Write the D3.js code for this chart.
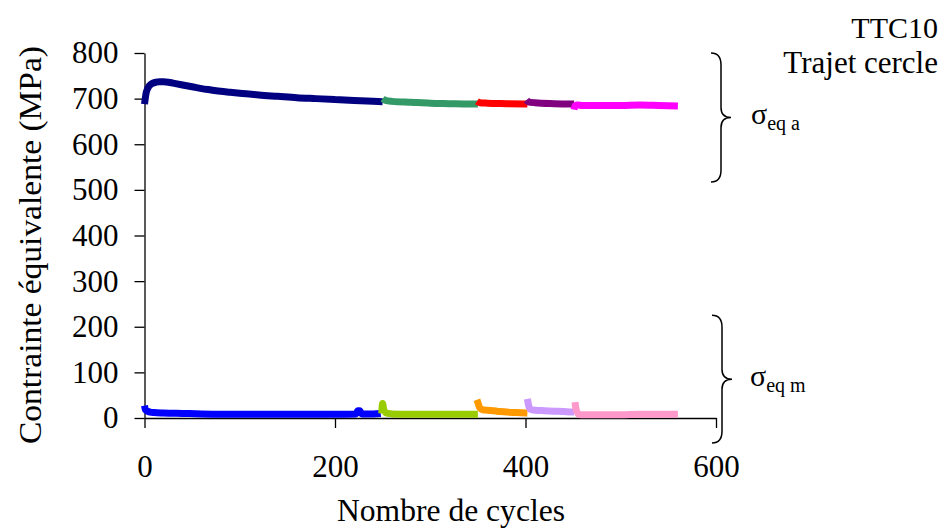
<!DOCTYPE html>
<html>
<head>
<meta charset="utf-8">
<script src="https://cdn.jsdelivr.net/npm/d3@7/dist/d3.min.js"></script>
<style>
  body { margin: 0; background: #fff; }
  svg text { font-family: "Times New Roman", "Liberation Serif", serif; fill: #000; }
  .axis path, .axis line { stroke: #000; stroke-width: 1.3; }
  .axis text { font-size: 31px; }
</style>
</head>
<body>
<div id="chart"></div>
<script>
var width = 943,
    height = 529;

var margin = {top: 53, right: 227, bottom: 111, left: 144.5};

// x axis / y axis ticks
var xTicks = [0, 200, 400, 600];
var yTicks = [0, 100, 200, 300, 400, 500, 600, 700, 800];

// amplitude (sigma eq a) segments
var ampNavyX = [0, 2, 5, 8, 12, 16, 20, 25, 30, 40, 50, 60, 70, 80, 90, 100, 120, 140, 160, 180, 200, 220, 240, 250];
var ampNavyY = [688, 715, 728, 733, 736, 737, 737, 736, 734, 730, 726, 722, 719, 716, 714, 712, 708, 705, 702, 700, 698, 696, 694, 693];
var ampGreenX = [250, 253, 260, 280, 300, 320, 340, 350];
var ampGreenY = [700, 696, 694, 692, 690, 689, 688, 688];
var ampRedX = [349, 352, 360, 380, 402];
var ampRedY = [694, 691, 690, 689, 688];
var ampPurpleX = [401, 403, 410, 430, 451];
var ampPurpleY = [697, 693, 691, 689, 688];
var ampMagentaX = [451, 452, 455, 460, 480, 500, 520, 540, 560];
var ampMagentaY = [676, 684, 686, 685, 685, 685, 686, 685, 684];

// mean (sigma eq m) segments
var meanBlueX = [0, 1, 3, 6, 10, 20, 40, 60, 100, 150, 200, 222, 224, 226, 228, 240, 248];
var meanBlueY = [27, 18, 15, 13, 12, 11, 10, 9, 8, 8, 8, 9, 16, 16, 9, 9, 10];
var meanGreenX = [249, 250, 251, 253, 256, 260, 280, 300, 320, 350];
var meanGreenY = [10, 32, 20, 12, 10, 9, 8, 8, 8, 8];
var meanOrangeX = [349, 350, 352, 355, 360, 370, 380, 390, 402];
var meanOrangeY = [40, 34, 22, 18, 17, 15, 13, 12, 11];
var meanLavenderX = [402, 403, 405, 410, 420, 430, 440, 451];
var meanLavenderY = [42, 30, 19, 17, 16, 15, 14, 13];
var meanPinkX = [452, 453, 456, 460, 480, 500, 520, 540, 560];
var meanPinkY = [35, 20, 8, 7, 7, 7, 8, 8, 8];

var series = [
  {x: ampNavyX, y: ampNavyY, color: "#000080"},
  {x: ampGreenX, y: ampGreenY, color: "#339966"},
  {x: ampRedX, y: ampRedY, color: "#ff0000"},
  {x: ampPurpleX, y: ampPurpleY, color: "#800080"},
  {x: ampMagentaX, y: ampMagentaY, color: "#ff00ff"},
  {x: meanBlueX, y: meanBlueY, color: "#0000ff"},
  {x: meanGreenX, y: meanGreenY, color: "#99cc00"},
  {x: meanOrangeX, y: meanOrangeY, color: "#ff9900"},
  {x: meanLavenderX, y: meanLavenderY, color: "#cc99ff"},
  {x: meanPinkX, y: meanPinkY, color: "#ff99cc"}
];

var svg = d3.select("#chart").append("svg")
  .attr("width", width)
  .attr("height", height);

var xScale = d3.scaleLinear()
  .domain([0, 600])
  .range([margin.left, width - margin.right]);
var yScale = d3.scaleLinear()
  .domain([0, 800])
  .range([height - margin.bottom, margin.top]);

//axes
var xAxis = svg.append("g")
  .attr("class", "axis")
  .attr("transform", "translate(0," + yScale(0) + ")")
  .call(d3.axisBottom(xScale).tickValues(xTicks).tickSize(10).tickSizeOuter(0).tickPadding(27));
var yAxis = svg.append("g")
  .attr("class", "axis")
  .attr("transform", "translate(" + xScale(0) + ",0)")
  .call(d3.axisLeft(yScale).tickValues(yTicks).tickSize(10).tickSizeOuter(0).tickPadding(16));
svg.selectAll(".axis").attr("font-family", null).attr("font-size", null);

//lines
var line = d3.line()
  .x(function(d) { return xScale(d[0]); })
  .y(function(d) { return yScale(d[1]); })
  .curve(d3.curveMonotoneX);

series.forEach(function(s) {
  svg.append("path")
    .datum(d3.zip(s.x, s.y))
    .attr("fill", "none")
    .attr("stroke", s.color)
    .attr("stroke-width", 7)
    .attr("stroke-linejoin", "round")
    .attr("d", line);
});

//axis titles
svg.append("text")
  .attr("text-anchor", "middle")
  .attr("font-size", 32)
  .attr("textLength", 398)
  .attr("lengthAdjust", "spacingAndGlyphs")
  .attr("transform", "translate(" + 41 + "," + 245 + ") rotate(-90)")
  .text("Contrainte équivalente (MPa)");
svg.append("text")
  .attr("text-anchor", "middle")
  .attr("font-size", 31)
  .attr("textLength", 228)
  .attr("lengthAdjust", "spacingAndGlyphs")
  .attr("x", 451)
  .attr("y", 521)
  .text("Nombre de cycles");

//title
svg.append("text")
  .attr("text-anchor", "end")
  .attr("font-size", 30)
  .attr("x", 938)
  .attr("y", 38)
  .text("TTC10");
svg.append("text")
  .attr("text-anchor", "end")
  .attr("font-size", 31)
  .attr("x", 938)
  .attr("y", 73)
  .text("Trajet cercle");

//braces
function brace(top, bottom, x0) {
  var mid = (top + bottom) / 2;
  var x1 = x0 + 10, x2 = x0 + 20;
  return "M" + x0 + "," + top +
    " Q" + x1 + "," + top + " " + x1 + "," + (top + 12) +
    " L" + x1 + "," + (mid - 10) +
    " Q" + x1 + "," + mid + " " + x2 + "," + mid +
    " Q" + x1 + "," + mid + " " + x1 + "," + (mid + 10) +
    " L" + x1 + "," + (bottom - 12) +
    " Q" + x1 + "," + bottom + " " + x0 + "," + bottom;
}
svg.append("path")
  .attr("d", brace(yScale(800), yScale(517), 711))
  .attr("fill", "none").attr("stroke", "#000").attr("stroke-width", 1.5);
svg.append("path")
  .attr("d", brace(yScale(225), yScale(-55), 712))
  .attr("fill", "none").attr("stroke", "#000").attr("stroke-width", 1.5);

var la = svg.append("text").attr("x", 751).attr("y", 124).attr("font-size", 30);
la.append("tspan").text("σ");
la.append("tspan").attr("font-size", 20).attr("dy", 6).text("eq a");
var lm = svg.append("text").attr("x", 750).attr("y", 386).attr("font-size", 30);
lm.append("tspan").text("σ");
lm.append("tspan").attr("font-size", 20).attr("dy", 6).text("eq m");
</script>
</body>
</html>
